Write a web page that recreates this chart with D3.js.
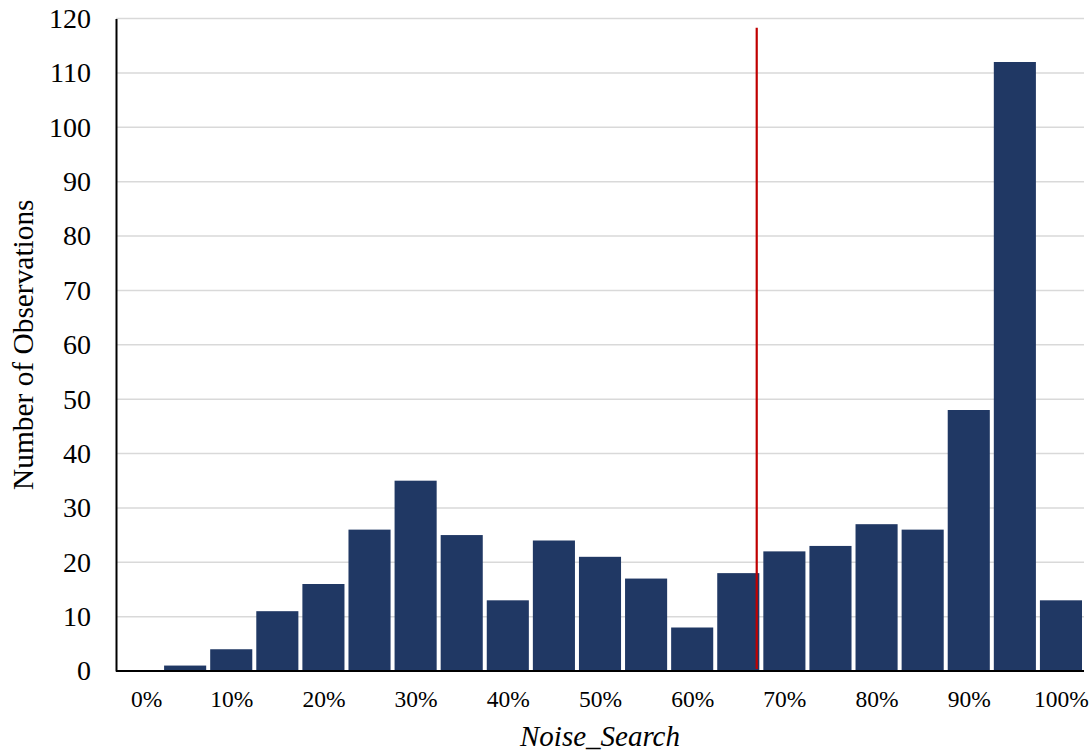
<!DOCTYPE html>
<html>
<head>
<meta charset="utf-8">
<script src="https://cdn.jsdelivr.net/npm/d3@7"></script>
<style>
  body { margin: 0; background: #fff; }
  svg text { font-family: "Times New Roman", "Liberation Serif", Tinos, "DejaVu Serif", serif; fill: #000; }
</style>
</head>
<body>
<div id="chart"></div>
<script>
// bins (lower edge, %) and counts
const bins = [0, 5, 10, 15, 20, 25, 30, 35, 40, 45, 50, 55, 60, 65, 70, 75, 80, 85, 90, 95, 100];
const counts = [0, 1, 4, 11, 16, 26, 35, 25, 13, 24, 21, 17, 8, 18, 22, 23, 27, 26, 48, 112, 13];
const xTicks = [0, 10, 20, 30, 40, 50, 60, 70, 80, 90, 100];
const yTicks = [0, 10, 20, 30, 40, 50, 60, 70, 80, 90, 100, 110, 120];
const cutoff = 67;       // red reference line
const cutoffTop = 118.3; // where the red line stops

const width = 1089;
const height = 755;
const marginLeft = 116;
const marginRight = 5;
const marginTop = 18.5;
const marginBottom = 84;

const svg = d3.select("#chart").append("svg")
  .attr("width", width)
  .attr("height", height);

const x = d3.scaleBand()
  .domain(bins)
  .range([marginLeft, width - marginRight])
  .paddingInner(4 / 46)
  .paddingOuter(2 / 46);

const y = d3.scaleLinear()
  .domain([0, 120])
  .range([height - marginBottom, marginTop]);

// percent -> px, through the bin centres
const xPct = d3.scaleLinear()
  .domain([0, 100])
  .range([x(0) + x.bandwidth() / 2, x(100) + x.bandwidth() / 2]);

// gridlines
svg.append("g")
  .attr("stroke", "#d9d9d9")
  .attr("stroke-width", 1.5)
  .selectAll("line")
  .data(yTicks.filter(d => d > 0))
  .join("line")
  .attr("x1", marginLeft)
  .attr("x2", width - marginRight)
  .attr("y1", d => y(d))
  .attr("y2", d => y(d));

// bars
svg.append("g")
  .attr("fill", "#203864")
  .selectAll("rect")
  .data(bins.map((b, i) => ({ bin: b, value: counts[i] })))
  .join("rect")
  .attr("x", d => x(d.bin))
  .attr("width", x.bandwidth())
  .attr("y", d => y(d.value))
  .attr("height", d => y(0) - y(d.value));

// y axis
const yAxis = svg.append("g")
  .attr("transform", `translate(${marginLeft},0)`)
  .call(d3.axisLeft(y).tickValues(yTicks).tickSize(0).tickPadding(25));
yAxis.attr("font-family", null);
yAxis.select(".domain").attr("stroke", "#000").attr("stroke-width", 2);
yAxis.selectAll("text").attr("font-size", 28);

// x axis
const xAxis = svg.append("g")
  .attr("transform", `translate(0,${y(0)})`)
  .call(d3.axisBottom(xPct).tickValues(xTicks).tickSize(0).tickPadding(19).tickFormat(d => d + "%"));
xAxis.attr("font-family", null);
xAxis.select(".domain").remove();
xAxis.selectAll("text")
  .attr("font-size", 23.5)
  .attr("dx", d => d === 0 ? 7 : 0); // Excel nudges the first label a little right
xAxis.append("line")
  .attr("x1", marginLeft)
  .attr("x2", width - marginRight)
  .attr("stroke", "#000")
  .attr("stroke-width", 2);

// red reference line
svg.append("line")
  .attr("x1", xPct(cutoff))
  .attr("x2", xPct(cutoff))
  .attr("y1", y(0) - 2)
  .attr("y2", y(cutoffTop))
  .attr("stroke", "#c00000")
  .attr("stroke-width", 2.2);

// axis titles
svg.append("text")
  .attr("x", (marginLeft + width - marginRight) / 2)
  .attr("y", 746)
  .attr("text-anchor", "middle")
  .attr("font-size", 29)
  .attr("font-style", "italic")
  .text("Noise_Search");

svg.append("text")
  .attr("transform", `translate(33,${(y(0) + y(120)) / 2}) rotate(-90)`)
  .attr("text-anchor", "middle")
  .attr("font-size", 29.4)
  .text("Number of Observations");
</script>
</body>
</html>
